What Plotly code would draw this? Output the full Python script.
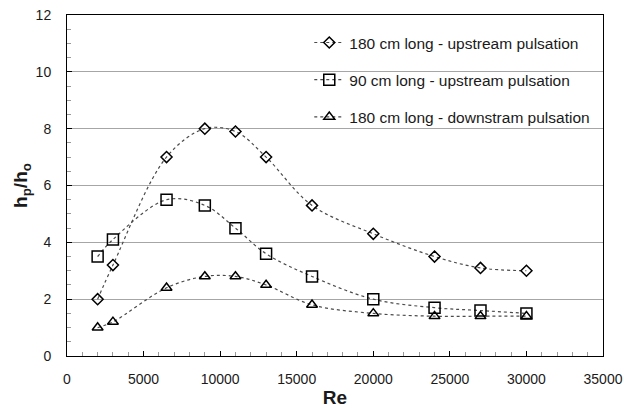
import plotly.graph_objects as go

re_vals = [2000, 3000, 6500, 9000, 11000, 13000, 16000, 20000, 24000, 27000, 30000]
up180 = [2.0, 3.2, 7.0, 8.0, 7.9, 7.0, 5.3, 4.3, 3.5, 3.1, 3.0]
up90 = [3.5, 4.1, 5.5, 5.3, 4.5, 3.6, 2.8, 2.0, 1.7, 1.6, 1.5]
down180 = [1.0, 1.2, 2.4, 2.8, 2.8, 2.5, 1.8, 1.5, 1.4, 1.4, 1.4]
names = ["180 cm long - upstream pulsation",
         "90 cm long - upstream pulsation",
         "180 cm long - downstram pulsation"]

series = [(up180, "diamond-open", 8.5), (up90, "square-open", 11), (down180, "triangle-up-open", 9.5)]

fig = go.Figure()
for i, ((vals, sym, sz), nm) in enumerate(zip(series, names)):
    fig.add_trace(go.Scatter(
        x=re_vals, y=vals, name=nm, mode="lines+markers",
        legendgroup=f"g{i}",
        line=dict(shape="spline", smoothing=1.0, dash="dot", color="#4a4a4a", width=1.2),
        marker=dict(symbol=sym, size=sz, color="black", line=dict(color="black", width=1.5)),
    ))

tickfont = dict(family="Liberation Sans, Arial, sans-serif", size=14, color="#1a1a1a")
fig.update_layout(
    width=624, height=408,
    margin=dict(l=67, r=21, t=15, b=52),
    paper_bgcolor="white", plot_bgcolor="white",
    showlegend=True,
    legend=dict(x=0.452, y=0.968, xanchor="left", yanchor="top",
                bgcolor="rgba(0,0,0,0)", traceorder="grouped", tracegroupgap=14,
                font=dict(family="Liberation Sans, Arial, sans-serif", size=15.5, color="#1a1a1a")),
    xaxis=dict(range=[0, 35000], dtick=5000, tick0=0, tickformat="d", showgrid=False, zeroline=False,
               automargin=False,
               showline=True, linecolor="black", linewidth=1, mirror=True,
               ticks="inside", ticklen=5, tickcolor="black", tickfont=tickfont,
               ticklabelstandoff=10,
               minor=dict(dtick=1000, ticks="inside", ticklen=4, tickcolor="#999999", showgrid=False),
               title=dict(text="<b>Re</b>", font=dict(family="Liberation Sans, Arial, sans-serif", size=19, color="#1a1a1a"), standoff=6)),
    yaxis=dict(range=[0, 12], dtick=2, tick0=0, showgrid=True, gridcolor="#a6a6a6", gridwidth=1,
               automargin=False,
               zeroline=False, showline=True, linecolor="black", linewidth=1, mirror=True,
               ticks="inside", ticklen=5, tickcolor="black", tickfont=tickfont,
               ticklabelstandoff=12,
               minor=dict(dtick=0.5, ticks="inside", ticklen=4, tickcolor="#999999", showgrid=False),
               title=dict(text="<b>h<sub>p</sub>/h<sub>o</sub></b>", font=dict(family="Liberation Sans, Arial, sans-serif", size=19, color="#1a1a1a"), standoff=2)),
)

fig.write_html("out.html")
